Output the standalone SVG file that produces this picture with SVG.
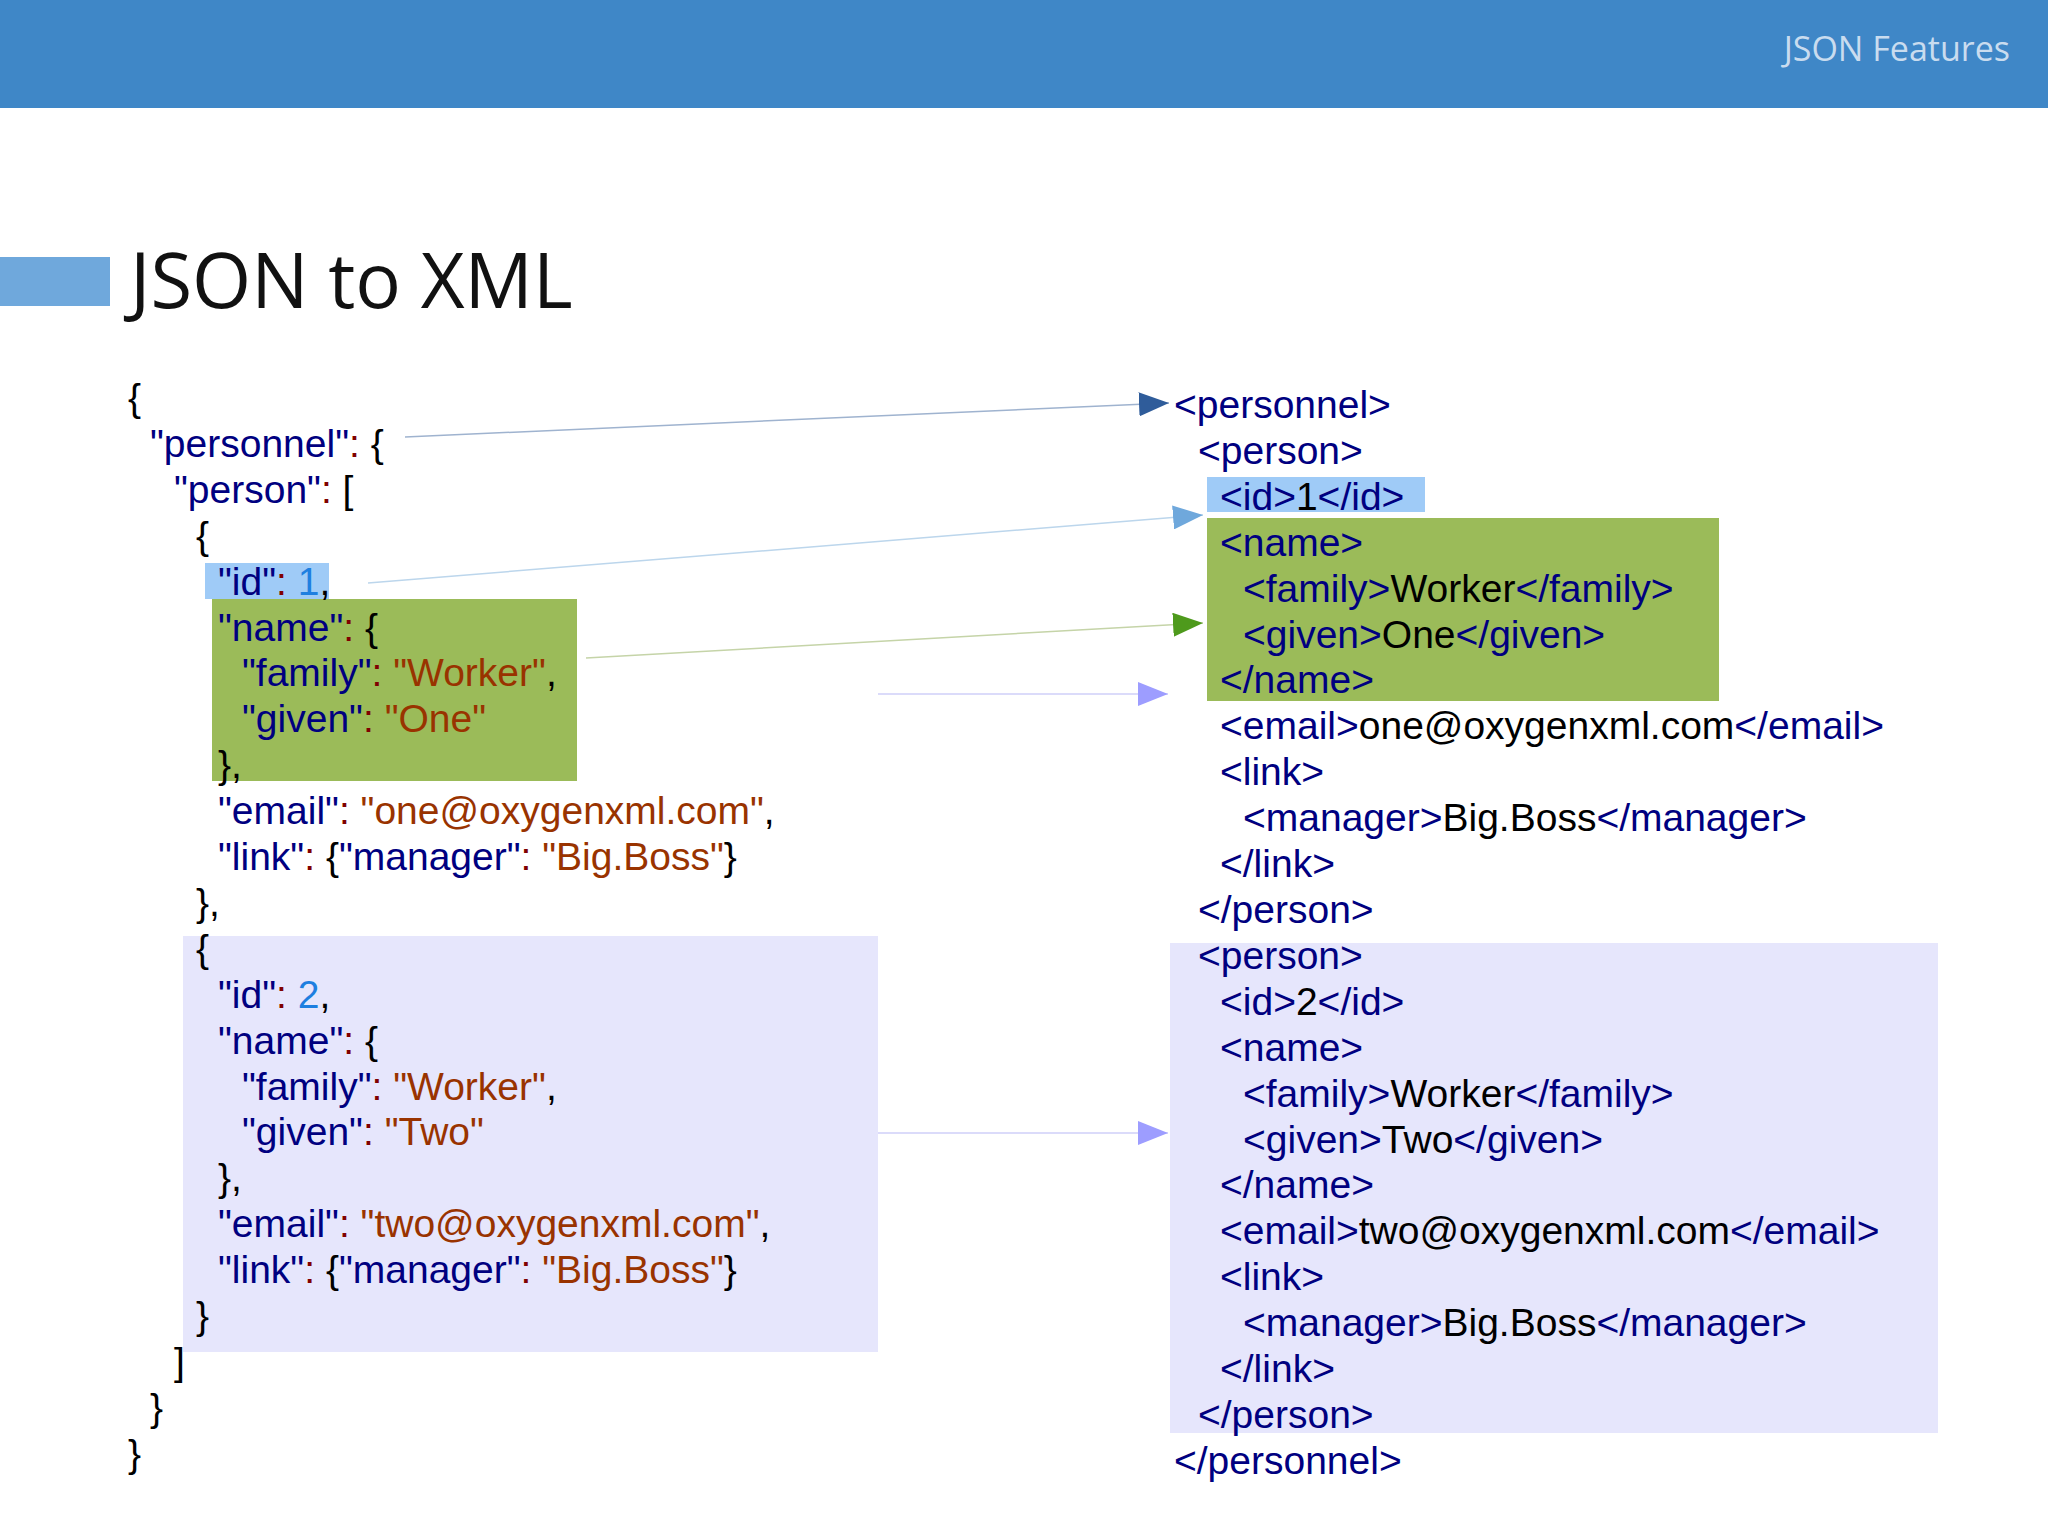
<svg xmlns="http://www.w3.org/2000/svg" width="2048" height="1536" viewBox="0 0 2048 1536">
<style>
.c{font-family:"Liberation Sans",Arial,sans-serif;font-size:39px;fill:#000}
.k{fill:#000080}.s{fill:#993300}.n{fill:#1e7fe0}.q{fill:#800000}
.ln{fill:none;stroke-width:1.5}
</style>
<defs>
<marker id="m1" markerUnits="userSpaceOnUse" markerWidth="30" markerHeight="24" refX="30" refY="12" orient="auto"><path d="M0,0L30,12L0,24Z" fill="#2f5c9a"/></marker>
<marker id="m2" markerUnits="userSpaceOnUse" markerWidth="30" markerHeight="24" refX="30" refY="12" orient="auto"><path d="M0,0L30,12L0,24Z" fill="#6fa8dc"/></marker>
<marker id="m3" markerUnits="userSpaceOnUse" markerWidth="30" markerHeight="24" refX="30" refY="12" orient="auto"><path d="M0,0L30,12L0,24Z" fill="#4e9a1c"/></marker>
<marker id="m4" markerUnits="userSpaceOnUse" markerWidth="30" markerHeight="24" refX="30" refY="12" orient="auto"><path d="M0,0L30,12L0,24Z" fill="#9d9dff"/></marker>
</defs>
<rect width="2048" height="1536" fill="#fff"/>
<g id="header">
<rect x="0" y="0" width="2048" height="108" fill="#3f87c7"/>
<text x="2010" y="61" text-anchor="end" font-family="'Open Sans',sans-serif" font-size="34" fill="#c9dcef">JSON Features</text>
<rect x="0" y="257" width="110" height="49" fill="#6fa8dc"/>
<text x="130" y="308" font-family="'Open Sans',sans-serif" font-size="76" fill="#111">JSON to XML</text>
</g>
<g id="highlights">
<rect x="183" y="936" width="695" height="416" fill="#e6e6fc"/>
<rect x="205" y="563" width="124" height="36" fill="#9fcbf7"/>
<rect x="212" y="599" width="365" height="182" fill="#9bbb59"/>
<rect x="1170" y="943" width="768" height="490" fill="#e6e6fc"/>
<rect x="1207" y="477" width="218" height="35" fill="#9fcbf7"/>
<rect x="1207" y="518" width="512" height="183" fill="#9bbb59"/>
</g>
<g id="json" class="c">
<text x="128" y="411">{</text>
<text x="150" y="457"><tspan class="k">"personnel"</tspan><tspan class="q">:</tspan> {</text>
<text x="174" y="503"><tspan class="k">"person"</tspan><tspan class="q">:</tspan> [</text>
<text x="196" y="549">{</text>
<text x="218" y="595"><tspan class="k">"id"</tspan><tspan class="q">:</tspan> <tspan class="n">1</tspan>,</text>
<text x="218" y="641"><tspan class="k">"name"</tspan><tspan class="q">:</tspan> {</text>
<text x="242" y="686"><tspan class="k">"family"</tspan><tspan class="q">:</tspan> <tspan class="s">"Worker"</tspan>,</text>
<text x="242" y="732"><tspan class="k">"given"</tspan><tspan class="q">:</tspan> <tspan class="s">"One"</tspan></text>
<text x="218" y="778">},</text>
<text x="218" y="824"><tspan class="k">"email"</tspan><tspan class="q">:</tspan> <tspan class="s">"one@oxygenxml.com"</tspan>,</text>
<text x="218" y="870"><tspan class="k">"link"</tspan><tspan class="q">:</tspan> {<tspan class="k">"manager"</tspan><tspan class="q">:</tspan> <tspan class="s">"Big.Boss"</tspan>}</text>
<text x="196" y="916">},</text>
<text x="196" y="962">{</text>
<text x="218" y="1008"><tspan class="k">"id"</tspan><tspan class="q">:</tspan> <tspan class="n">2</tspan>,</text>
<text x="218" y="1054"><tspan class="k">"name"</tspan><tspan class="q">:</tspan> {</text>
<text x="242" y="1100"><tspan class="k">"family"</tspan><tspan class="q">:</tspan> <tspan class="s">"Worker"</tspan>,</text>
<text x="242" y="1145"><tspan class="k">"given"</tspan><tspan class="q">:</tspan> <tspan class="s">"Two"</tspan></text>
<text x="218" y="1191">},</text>
<text x="218" y="1237"><tspan class="k">"email"</tspan><tspan class="q">:</tspan> <tspan class="s">"two@oxygenxml.com"</tspan>,</text>
<text x="218" y="1283"><tspan class="k">"link"</tspan><tspan class="q">:</tspan> {<tspan class="k">"manager"</tspan><tspan class="q">:</tspan> <tspan class="s">"Big.Boss"</tspan>}</text>
<text x="196" y="1329">}</text>
<text x="174" y="1375">]</text>
<text x="150" y="1421">}</text>
<text x="128" y="1467">}</text>
</g>
<g id="xml" class="c">
<text x="1174" y="418" class="k">&lt;personnel&gt;</text>
<text x="1198" y="464" class="k">&lt;person&gt;</text>
<text x="1220" y="510"><tspan class="k">&lt;id&gt;</tspan>1<tspan class="k">&lt;/id&gt;</tspan></text>
<text x="1220" y="556" class="k">&lt;name&gt;</text>
<text x="1243" y="602"><tspan class="k">&lt;family&gt;</tspan>Worker<tspan class="k">&lt;/family&gt;</tspan></text>
<text x="1243" y="648"><tspan class="k">&lt;given&gt;</tspan>One<tspan class="k">&lt;/given&gt;</tspan></text>
<text x="1220" y="693" class="k">&lt;/name&gt;</text>
<text x="1220" y="739"><tspan class="k">&lt;email&gt;</tspan>one@oxygenxml.com<tspan class="k">&lt;/email&gt;</tspan></text>
<text x="1220" y="785" class="k">&lt;link&gt;</text>
<text x="1243" y="831"><tspan class="k">&lt;manager&gt;</tspan>Big.Boss<tspan class="k">&lt;/manager&gt;</tspan></text>
<text x="1220" y="877" class="k">&lt;/link&gt;</text>
<text x="1198" y="923" class="k">&lt;/person&gt;</text>
<text x="1198" y="969" class="k">&lt;person&gt;</text>
<text x="1220" y="1015"><tspan class="k">&lt;id&gt;</tspan>2<tspan class="k">&lt;/id&gt;</tspan></text>
<text x="1220" y="1061" class="k">&lt;name&gt;</text>
<text x="1243" y="1107"><tspan class="k">&lt;family&gt;</tspan>Worker<tspan class="k">&lt;/family&gt;</tspan></text>
<text x="1243" y="1153"><tspan class="k">&lt;given&gt;</tspan>Two<tspan class="k">&lt;/given&gt;</tspan></text>
<text x="1220" y="1198" class="k">&lt;/name&gt;</text>
<text x="1220" y="1244"><tspan class="k">&lt;email&gt;</tspan>two@oxygenxml.com<tspan class="k">&lt;/email&gt;</tspan></text>
<text x="1220" y="1290" class="k">&lt;link&gt;</text>
<text x="1243" y="1336"><tspan class="k">&lt;manager&gt;</tspan>Big.Boss<tspan class="k">&lt;/manager&gt;</tspan></text>
<text x="1220" y="1382" class="k">&lt;/link&gt;</text>
<text x="1198" y="1428" class="k">&lt;/person&gt;</text>
<text x="1174" y="1474" class="k">&lt;/personnel&gt;</text>
</g>
<g id="connectors">
<line class="ln" x1="405" y1="437" x2="1169" y2="403" stroke="#9fb3cf" marker-end="url(#m1)"/>
<line class="ln" x1="368" y1="583" x2="1203" y2="515" stroke="#bcd6ec" marker-end="url(#m2)"/>
<line class="ln" x1="586" y1="658" x2="1203" y2="623" stroke="#c5d4a8" marker-end="url(#m3)"/>
<line class="ln" x1="878" y1="694" x2="1168" y2="694" stroke="#cfcff8" marker-end="url(#m4)"/>
<line class="ln" x1="878" y1="1133" x2="1168" y2="1133" stroke="#cfcff8" marker-end="url(#m4)"/>
</g>
</svg>
